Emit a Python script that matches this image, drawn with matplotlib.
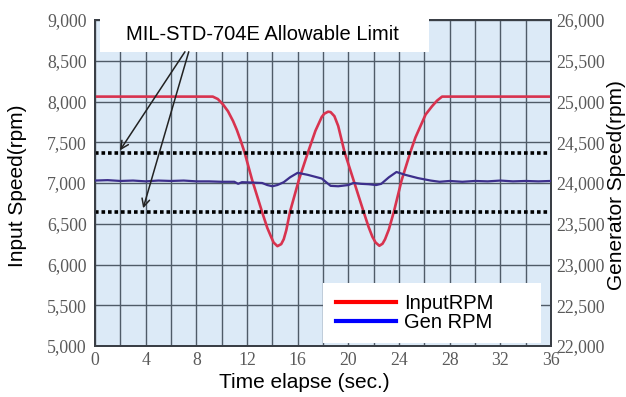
import matplotlib
matplotlib.use('Agg')
import matplotlib.pyplot as plt
from matplotlib.lines import Line2D
from matplotlib.patches import Rectangle
from matplotlib.ticker import FuncFormatter


# input shaft speed, left axis (rpm)
input_t = [0, 9.3, 9.7, 10.1, 10.5, 10.9, 11.2, 11.5, 11.8, 12.4, 13.2, 13.6, 13.9, 14.1, 14.4,
           14.7, 14.9, 15.1, 15.4, 16.1, 16.8, 17.4, 17.9, 18.1, 18.4, 18.6, 18.9, 19.2, 19.7,
           20.4, 21.2, 21.6, 21.9, 22.15, 22.45, 22.7, 22.9, 23.2, 23.6, 24.2, 24.9, 25.3, 25.7,
           26.1, 26.6, 27.0, 27.4, 36]
input_rpm = [8060, 8060, 8030, 7965, 7880, 7760, 7650, 7520, 7380, 7040, 6640, 6450, 6340, 6270, 6225,
             6250, 6310, 6420, 6650, 7040, 7370, 7640, 7810, 7850, 7875, 7870, 7820, 7700, 7380,
             7040, 6650, 6460, 6340, 6270, 6230, 6255, 6310, 6430, 6650, 7030, 7380, 7560, 7700,
             7840, 7940, 8010, 8060, 8060]

# generator speed, right axis (rpm)
gen_t = [0, 1, 2, 3, 4, 5, 6, 7, 8, 9, 10, 11, 11.3, 11.6, 12.5, 13.2, 13.6, 14.0, 14.4,
         14.9, 15.4, 16.0, 16.8, 17.9, 18.6, 19.2, 20.0, 20.4, 21.0, 21.6, 22.2, 22.6, 23.2,
         23.8, 24.5, 25.5, 26.5, 27.2, 28, 29, 30, 31, 32, 33, 34, 35, 36]
gen_rpm = [24030, 24035, 24025, 24030, 24020, 24030, 24025, 24030, 24020, 24020, 24015, 24015,
           23990, 24010, 24005, 24000, 23975, 23960, 23975, 24010, 24070, 24125, 24100, 24055,
           23965, 23960, 23975, 24000, 23990, 23985, 23975, 23990, 24070, 24135, 24100, 24060,
           24030, 24015, 24025, 24015, 24025, 24020, 24030, 24020, 24025, 24020, 24025]

limits = [7370, 6650]  # MIL-STD-704E band, left axis units

x_ticks = list(range(0, 37, 4))
left_ticks = list(range(5000, 9001, 500))
right_ticks = list(range(22000, 26001, 500))

plt.rcParams['font.family'] = ['Liberation Serif', 'DejaVu Serif']

fig = plt.figure(figsize=(6.26, 3.97), dpi=100)
ax = fig.add_axes([95 / 626, 51 / 397, 456 / 626, 326 / 397])
ax2 = ax.twinx()

ax.set_facecolor('#dceaf7')
ax2.patch.set_visible(False)

ax.set_xlim(0, 36)
ax.set_ylim(5000, 9000)
ax2.set_ylim(22000, 26000)

comma = FuncFormatter(lambda v, p: f'{int(v):,}')
ax.yaxis.set_major_formatter(comma)
ax2.yaxis.set_major_formatter(comma)

ax.set_xticks(x_ticks, [str(v) for v in x_ticks], family='Liberation Serif')
ax.set_xticks(range(2, 36, 4), minor=True)
ax.set_yticks(left_ticks, [f'{v:,}' for v in left_ticks], family='Liberation Serif')
ax2.set_yticks(right_ticks, [f'{v:,}' for v in right_ticks], family='Liberation Serif')

ax.grid(True, which='both', axis='x', color='#4f5b68', lw=1.0)
ax.grid(True, which='major', axis='y', color='#4f5b68', lw=1.0)
ax.set_axisbelow(True)

for a in (ax, ax2):
    a.tick_params(which='both', length=0, colors='#5a5a5a', labelsize=12.8)
    for s in a.spines.values():
        s.set_color('#3a3f46')
        s.set_linewidth(1.4)
ax.tick_params(axis='y', pad=6)
ax.tick_params(axis='x', pad=4)
ax2.tick_params(axis='y', pad=4)

ax.plot(input_t, input_rpm, color='#d8334f', lw=1.9, zorder=3)
ax2.plot(gen_t, gen_rpm, color='#3d2f8c', lw=1.6, zorder=3)

for lim in limits:
    ax.axhline(lim, color='black', lw=2.6, ls=(0, (1.0, 0.8)), zorder=4)

# callout box over the top edge, arrows down to the two limit lines
ax2.add_patch(Rectangle(((100 - 95) / 456, (346 - 52) / 326), 329 / 456, 35 / 326,
                        transform=ax2.transAxes, fc='white', ec='none', zorder=8, clip_on=False))
ax2.text((262 - 95) / 456, (346 - 35) / 326, 'MIL-STD-704E Allowable Limit', transform=ax2.transAxes,
         ha='center', va='center', fontsize=14.5, family='Liberation Sans', zorder=10, clip_on=False)
arrow = dict(arrowstyle='->', color='#222222', lw=1.1, mutation_scale=14, shrinkA=0, shrinkB=0)
ax2.annotate('', xy=(1.97, 7400), xycoords=ax.transData,
             xytext=(7.1, 8610), textcoords=ax.transData, arrowprops=arrow, zorder=9)
ax2.annotate('', xy=(3.8, 6690), xycoords=ax.transData,
             xytext=(7.4, 8610), textcoords=ax.transData, arrowprops=arrow, zorder=9)

# legend panel
ax2.add_patch(Rectangle(((323 - 95) / 456, (346 - 343) / 326), 218 / 456, 60 / 326,
                        transform=ax2.transAxes, fc='white', ec='none', zorder=8))
handles = [Line2D([], [], color='#ff0000', lw=3), Line2D([], [], color='#0000ff', lw=3)]
leg = ax2.legend(handles, ['InputRPM', 'Gen RPM'], loc='center left', frameon=False,
                 bbox_to_anchor=((336 - 95) / 456, (346 - 313) / 326),
                 prop=dict(family='Liberation Sans', size=14.5),
                 handlelength=3.0, handletextpad=0.4, labelspacing=0.0, borderpad=0, borderaxespad=0)
leg.set_zorder(11)

label_font = dict(family='Liberation Sans', size=15)
fig.text(18 / 626, 1 - 186 / 397, 'Input Speed(rpm)', rotation=90, ha='center', va='center', **label_font)
fig.text(616 / 626, 1 - 185 / 397, 'Generator Speed(rpm)', rotation=90, ha='center', va='center', **label_font)
fig.text(304 / 626, 1 - 383 / 397, 'Time elapse (sec.)', ha='center', va='center', **label_font)

fig.savefig('out.png', dpi=100)
